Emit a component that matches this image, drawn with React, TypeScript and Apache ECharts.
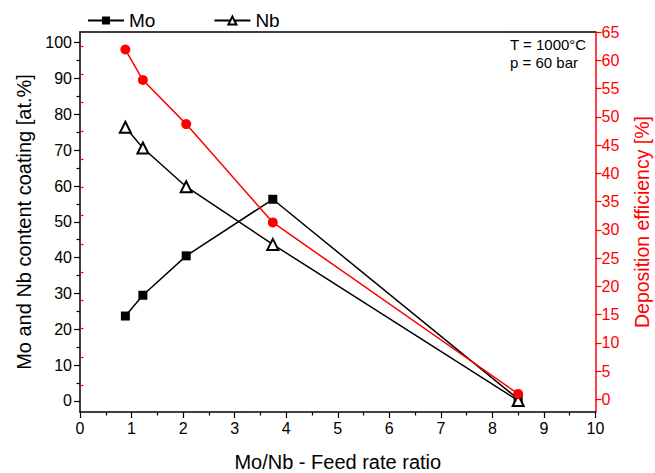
import React, { useEffect, useRef } from "react";
import * as echarts from "echarts";

const feedRatio = [0.88, 1.22, 2.06, 3.74, 8.5];
const moContent = [23.7, 29.5, 40.5, 56.3, 0.5];
const nbContent = [76.4, 70.6, 59.8, 43.7, 0.1];
const depEfficiency = [61.9, 56.5, 48.7, 31.3, 0.95];

const leftTicks = [0, 10, 20, 30, 40, 50, 60, 70, 80, 90, 100];
const leftMinor = [5, 15, 25, 35, 45, 55, 65, 75, 85, 95];
const rightTicks = [0, 5, 10, 15, 20, 25, 30, 35, 40, 45, 50, 55, 60, 65];
const rightMinor = [2.5, 7.5, 12.5, 17.5, 22.5, 27.5, 32.5, 37.5, 42.5, 47.5, 52.5, 57.5, 62.5];

const FONT = "'Liberation Sans', Arial, sans-serif";

export default function App() {
  const ref = useRef<HTMLDivElement>(null);
  useEffect(() => {
    if (!ref.current) return;
    const chart = echarts.init(ref.current, null, { renderer: "svg" });
    const pairs = (ys: number[]) => feedRatio.map((x, i) => [x, ys[i]]);
    const LMIN = -3.1, LMAX = 103, RMIN = -2.25, RMAX = 65;
    const hidden = { show: false };
    chart.setOption({
      animation: false,
      backgroundColor: "#ffffff",
      textStyle: { fontFamily: FONT },
      legend: {
        data: ["Mo", "Nb"],
        left: 82,
        top: 6,
        itemWidth: 36,
        itemHeight: 10,
        itemGap: 58,
        textStyle: { fontSize: 19, color: "#000", fontFamily: FONT },
      },
      grid: { left: 80, right: 59.5, top: 32, bottom: 61, containLabel: false, outerBoundsMode: "none" },
      xAxis: [
        {
          type: "value",
          min: 0,
          max: 10,
          interval: 1,
          position: "bottom",
          name: "Mo/Nb - Feed rate ratio",
          nameLocation: "middle",
          nameGap: 40,
          nameTextStyle: { fontSize: 20, color: "#000", fontFamily: FONT },
          axisLine: { show: true, onZero: false, lineStyle: { color: "#000", width: 1.5 } },
          axisTick: { show: true, inside: false, length: 6, lineStyle: { color: "#000", width: 1.2 } },
          minorTick: { show: true, splitNumber: 2, length: 3.5, lineStyle: { color: "#000", width: 1.2 } },
          axisLabel: { fontSize: 16, color: "#000", margin: 8, fontFamily: FONT },
          splitLine: hidden,
        },
        {
          type: "value",
          min: 0,
          max: 10,
          position: "top",
          axisLine: { show: true, onZero: false, lineStyle: { color: "#000", width: 1.5 } },
          axisTick: hidden,
          axisLabel: hidden,
          splitLine: hidden,
        },
      ],
      yAxis: [
        {
          type: "value",
          min: LMIN,
          max: LMAX,
          position: "left",
          name: "Mo and Nb content coating [at.%]",
          nameLocation: "middle",
          nameRotate: 90,
          nameGap: 46,
          nameTextStyle: { fontSize: 20, color: "#000", fontFamily: FONT },
          axisLine: { show: true, onZero: false, lineStyle: { color: "#000", width: 1.5 } },
          axisTick: { show: true, length: 6, customValues: leftTicks, lineStyle: { color: "#000", width: 1.2 } },
          axisLabel: { customValues: leftTicks, fontSize: 16, color: "#000", margin: 8, fontFamily: FONT },
          splitLine: hidden,
        },
        {
          type: "value",
          min: RMIN,
          max: RMAX,
          position: "right",
          name: "Deposition efficiency [%]",
          nameLocation: "middle",
          nameRotate: 90,
          nameGap: 36,
          nameTextStyle: { fontSize: 19.5, color: "#ff0000", fontFamily: FONT },
          axisLine: { show: true, onZero: false, lineStyle: { color: "#ff0000", width: 1.5 } },
          axisTick: { show: true, length: 6, customValues: rightTicks, lineStyle: { color: "#ff0000", width: 1.2 } },
          axisLabel: { customValues: rightTicks, fontSize: 16, color: "#ff0000", margin: 6, fontFamily: FONT },
          splitLine: hidden,
        },
        {
          type: "value",
          min: LMIN,
          max: LMAX,
          position: "left",
          axisLine: hidden,
          axisTick: { show: true, length: 3.5, customValues: leftMinor, lineStyle: { color: "#000", width: 1.2 } },
          axisLabel: hidden,
          splitLine: hidden,
        },
        {
          type: "value",
          min: RMIN,
          max: RMAX,
          position: "right",
          axisLine: hidden,
          axisTick: { show: true, length: 3.5, customValues: rightMinor, lineStyle: { color: "#ff0000", width: 1.2 } },
          axisLabel: hidden,
          splitLine: hidden,
        },
      ],
      series: [
        {
          name: "Mo",
          type: "line",
          data: pairs(moContent),
          yAxisIndex: 0,
          symbol: "rect",
          symbolSize: 9,
          itemStyle: { color: "#000" },
          lineStyle: { color: "#000", width: 1.5 },
          z: 3,
        },
        {
          name: "Nb",
          type: "line",
          data: pairs(nbContent),
          yAxisIndex: 0,
          symbol: "emptyTriangle",
          symbolSize: 11,
          itemStyle: { color: "#000", borderWidth: 1.5 },
          lineStyle: { color: "#000", width: 1.5 },
          z: 4,
        },
        {
          name: "Deposition efficiency",
          type: "line",
          data: pairs(depEfficiency),
          yAxisIndex: 1,
          symbol: "circle",
          symbolSize: 10,
          itemStyle: { color: "#ff0000" },
          lineStyle: { color: "#ff0000", width: 1.5 },
          z: 5,
        },
      ],
      graphic: [
        {
          type: "text",
          left: 510,
          top: 37,
          style: { text: "T = 1000°C", fontSize: 15, fill: "#000", fontFamily: FONT },
        },
        {
          type: "text",
          left: 510,
          top: 55,
          style: { text: "p = 60 bar", fontSize: 15, fill: "#000", fontFamily: FONT },
        },
      ],
    });
    return () => chart.dispose();
  }, []);
  return (
    <div
      ref={ref}
      style={{ position: "fixed", left: 0, top: 0, width: 655, height: 473 }}
    />
  );
}
